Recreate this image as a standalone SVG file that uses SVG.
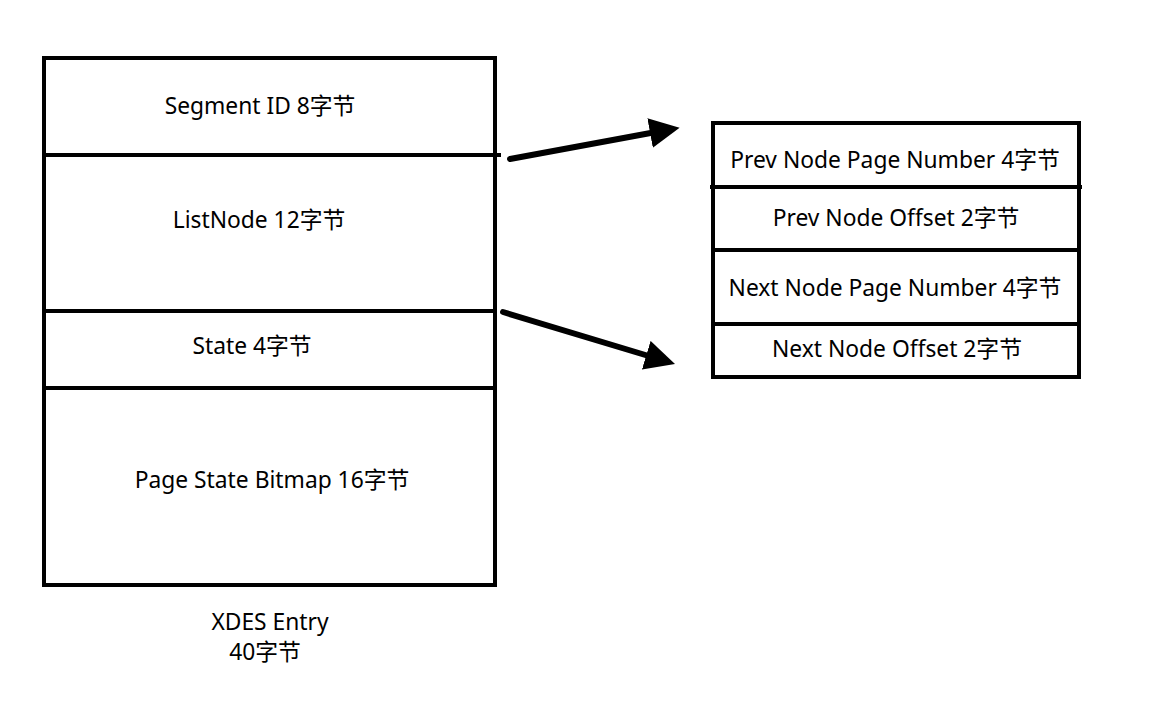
<svg xmlns="http://www.w3.org/2000/svg" width="1174" height="712" viewBox="0 0 1174 712">
<style>
.box{fill:#fff;stroke:#000;stroke-width:4}
.div{stroke:#000;stroke-width:4}
.t{font-family:"Noto Sans","Noto Sans CJK SC",sans-serif;font-size:22.8px;fill:#000;text-anchor:middle}
.arr{stroke:#000;stroke-width:6;stroke-linecap:round;fill:none}
</style>
<defs>
<marker id="ah" markerWidth="5" markerHeight="5" refX="1" refY="2.5" orient="auto" markerUnits="strokeWidth" viewBox="0 0 5 5">
<path d="M0,0 L5,2.5 L0,5 Z" fill="#000"/>
</marker>
</defs>
<rect width="1174" height="712" fill="#fff"/>
<g id="xdes">
<rect class="box" x="44" y="58" width="451" height="527"/>
<line class="div" x1="44" y1="155" x2="501" y2="155"/>
<line class="div" x1="44" y1="311" x2="495" y2="311"/>
<line class="div" x1="44" y1="388" x2="495" y2="388"/>
<text class="t" x="260" y="114">Segment ID 8字节</text>
<text class="t" x="259" y="228">ListNode 12字节</text>
<text class="t" x="252" y="354">State 4字节</text>
<text class="t" x="272" y="488">Page State Bitmap 16字节</text>
<text class="t" x="270" y="630">XDES Entry</text>
<text class="t" x="265" y="660">40字节</text>
</g>
<g id="listnode">
<rect class="box" x="713" y="123" width="366" height="254"/>
<line class="div" x1="710" y1="187" x2="1082" y2="187"/>
<line class="div" x1="713" y1="250" x2="1079" y2="250"/>
<line class="div" x1="713" y1="324" x2="1079" y2="324"/>
<text class="t" x="895" y="168">Prev Node Page Number 4字节</text>
<text class="t" x="896" y="226">Prev Node Offset 2字节</text>
<text class="t" x="895" y="296">Next Node Page Number 4字节</text>
<text class="t" x="897" y="357">Next Node Offset 2字节</text>
</g>
<g id="connectors">
<line class="arr" x1="510" y1="159" x2="656" y2="132" marker-end="url(#ah)"/>
<line class="arr" x1="503" y1="312" x2="652" y2="357" marker-end="url(#ah)"/>
</g>
</svg>
